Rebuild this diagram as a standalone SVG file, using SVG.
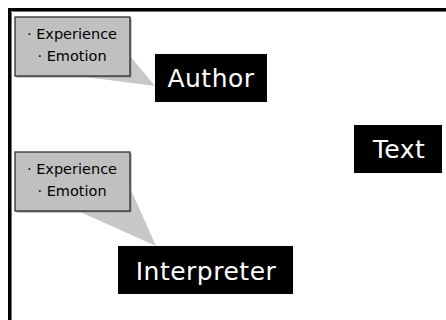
<svg xmlns="http://www.w3.org/2000/svg" width="446" height="320" viewBox="0 0 446 320">
<style>
.frame{fill:none;stroke:#000;stroke-width:3}
.note{fill:#c0c0c0;stroke:#222;stroke-width:1.2}
.tail{fill:#c8c8c8;stroke:none}
.shadow{fill:#999}
.lbl{fill:#000}
.nt{font-family:"DejaVu Sans",sans-serif;font-size:14.5px;fill:#000;text-anchor:middle}
.lt{font-family:"DejaVu Sans",sans-serif;fill:#fff;text-anchor:middle;font-size:25px;letter-spacing:0.5px}
</style>
<rect x="0" y="0" width="446" height="320" fill="#fff"/>
<path class="frame" d="M9.5 320 V9.5 H446"/>
<path d="M11.5 320 V11.5 H446" fill="none" stroke="#777" stroke-width="1"/>
<g id="connectors">
<polygon class="tail" points="130,56 78,76 155,86"/>
<polygon class="tail" points="131,190 78,211 156,246"/>
</g>
<g id="note1">
<rect class="shadow" x="16.5" y="18.5" width="115" height="59"/>
<rect class="note" x="15" y="17" width="115" height="59"/>
<text class="nt" x="72" y="39">· Experience</text>
<text class="nt" x="72" y="61">· Emotion</text>
</g>
<g id="author">
<rect class="lbl" x="155" y="54" width="112" height="48"/>
<text class="lt" x="211" y="87">Author</text>
</g>
<g id="text">
<rect class="lbl" x="354" y="125" width="88" height="48"/>
<text class="lt" x="399" y="158">Text</text>
</g>
<g id="note2">
<rect class="shadow" x="16.5" y="153.5" width="115" height="59"/>
<rect class="note" x="15" y="152" width="115" height="59"/>
<text class="nt" x="72" y="174">· Experience</text>
<text class="nt" x="72" y="196">· Emotion</text>
</g>
<g id="interpreter">
<rect class="lbl" x="118" y="246" width="175" height="48"/>
<text class="lt" x="206" y="280">Interpreter</text>
</g>
</svg>
